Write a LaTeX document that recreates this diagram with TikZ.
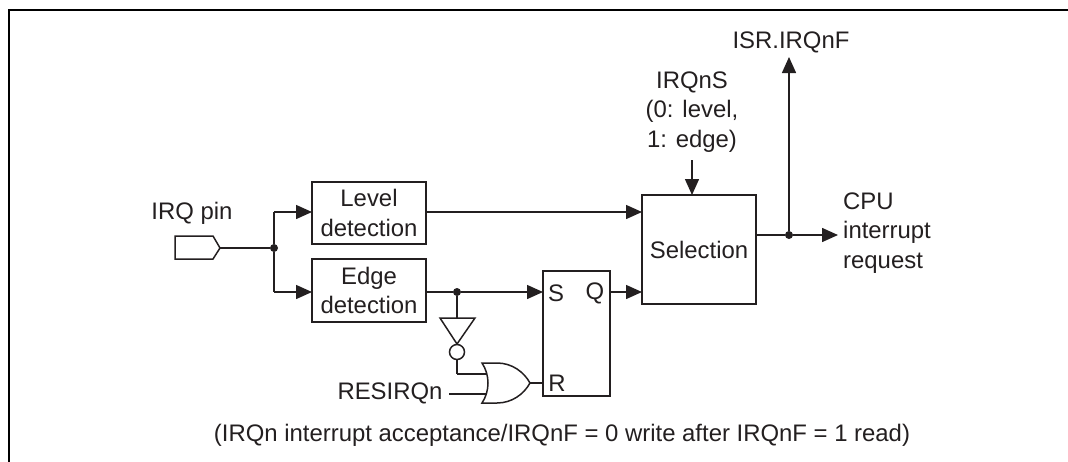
\documentclass[tikz,border=0pt]{standalone}
\usepackage{fontspec}
\setmainfont{Liberation Sans}
\usetikzlibrary{arrows.meta}
\definecolor{inkcolor}{HTML}{231F20}
\begin{document}
\begin{tikzpicture}
[x=1pt,y=-1pt,
  textdecorate/.style={inner sep=0pt,align=center,text=inkcolor,font=\fontsize{23.9}{29.5}\selectfont},%
  blockdecorate/.style={textdecorate,draw=inkcolor,line width=1.5pt},%
  linedecorate/.style={-,draw=inkcolor,line width=1.5pt},%
  arrowdecorate/.style={linedecorate,-{Triangle[length=16pt,width=14pt]}},%
  dotdecorate/.style={circle,fill=inkcolor,inner sep=0pt,minimum size=8pt}]
\useasboundingbox (0,0) rectangle (1068,461);
%% frame
\draw[line width=2.2pt,line cap=rect] (9,461) -- (9,10) -- (1068,10);
%% blocks
\foreach \nodename/\x/\y/\wid/\hei/\txt in {level/369/213/114/62/Level\\detection,
  edge/369/290.5/114/63/Edge\\detection,
  flipflop/576.5/333.5/67/125/{},
  selection/699/249.5/114/109/Selection} {
  \node (\nodename) at (\x,\y) [blockdecorate,minimum width=\wid,minimum height=\hei] {\txt};
}
%% labels
\foreach \nodename/\x/\y/\txt in {pinlabel/192/213/IRQ pin,
  isrlabel/791/42/ISR.IRQnF,
  selectlabel/692/112/{IRQnS\\(0: level,\\1: edge)},
  setlabel/556/293/S, qlabel/595/293/Q, resetlabel/557/383/R,
  reslabel/390/393/RESIRQn,
  notelabel/562/435/{(IRQn interrupt acceptance/IRQnF = 0 write after IRQnF = 1 read)}} {
  \node (\nodename) at (\x,\y) [textdecorate] {\txt};
}
\node (cpulabel) at (843,233) [textdecorate,anchor=west,align=left] {CPU\\interrupt\\request};
%% dots and the bubble
\foreach \nodename/\x/\y in {pinjoin/274/248, edgejoin/457/292, outjoin/789/235} {
  \node (\nodename) at (\x,\y) [dotdecorate] {};
}
\node (bubble) at (457,352) [circle,draw=inkcolor,line width=1.5pt,fill=white,inner sep=0pt,minimum size=15pt] {};
%% points on the shapes
\foreach \nodename/\x/\y in {pintip/220/248, levelin/312/212, edgein/312/292,
  pinup/274/212, pindown/274/292, levelout/426/212, edgeout/426/292,
  setin/543/292, qout/610/292, selA/642/212, selB/642/292, selC/692/195,
  selectfoot/692/160, selout/756/235, isrtip/789/57, cputip/838/235,
  nottop/457/318, bubblecorner/457/374, gateA/486/374, gateB/486/394,
  resend/449/394, gateout/530/383, resetin/543/383} {
  \coordinate (\nodename) at (\x,\y);
}
%% pin, inverter and gate
\draw[linedecorate,line join=miter] (175,236) -- (213,236) -- (pintip) -- (213,259) -- (175,259) -- cycle;
\draw[linedecorate,line join=miter] (440,318) -- (475,318) -- (457,344) -- cycle;
\draw[linedecorate] (482,363) .. controls (490,375) and (490,391) .. (482,403)
  -- (497,403) .. controls (512,403) and (524,394) .. (gateout)
  .. controls (524,372) and (512,363) .. (497,363) -- cycle;
%% connectors
\path
\foreach \startnode/\endnode in {pintip/pinjoin, pinjoin/pinup, pinjoin/pindown,
  edgeout/edgejoin, edgejoin/nottop, bubble/bubblecorner, bubblecorner/gateA,
  resend/gateB, gateout/resetin, selout/outjoin} {
  (\startnode) edge[linedecorate] (\endnode)
};
\path
\foreach \startnode/\endnode in {pinup/levelin, pindown/edgein, levelout/selA,
  edgejoin/setin, qout/selB, selectfoot/selC, outjoin/isrtip, outjoin/cputip} {
  (\startnode) edge[arrowdecorate] (\endnode)
};
\end{tikzpicture}
\end{document}
